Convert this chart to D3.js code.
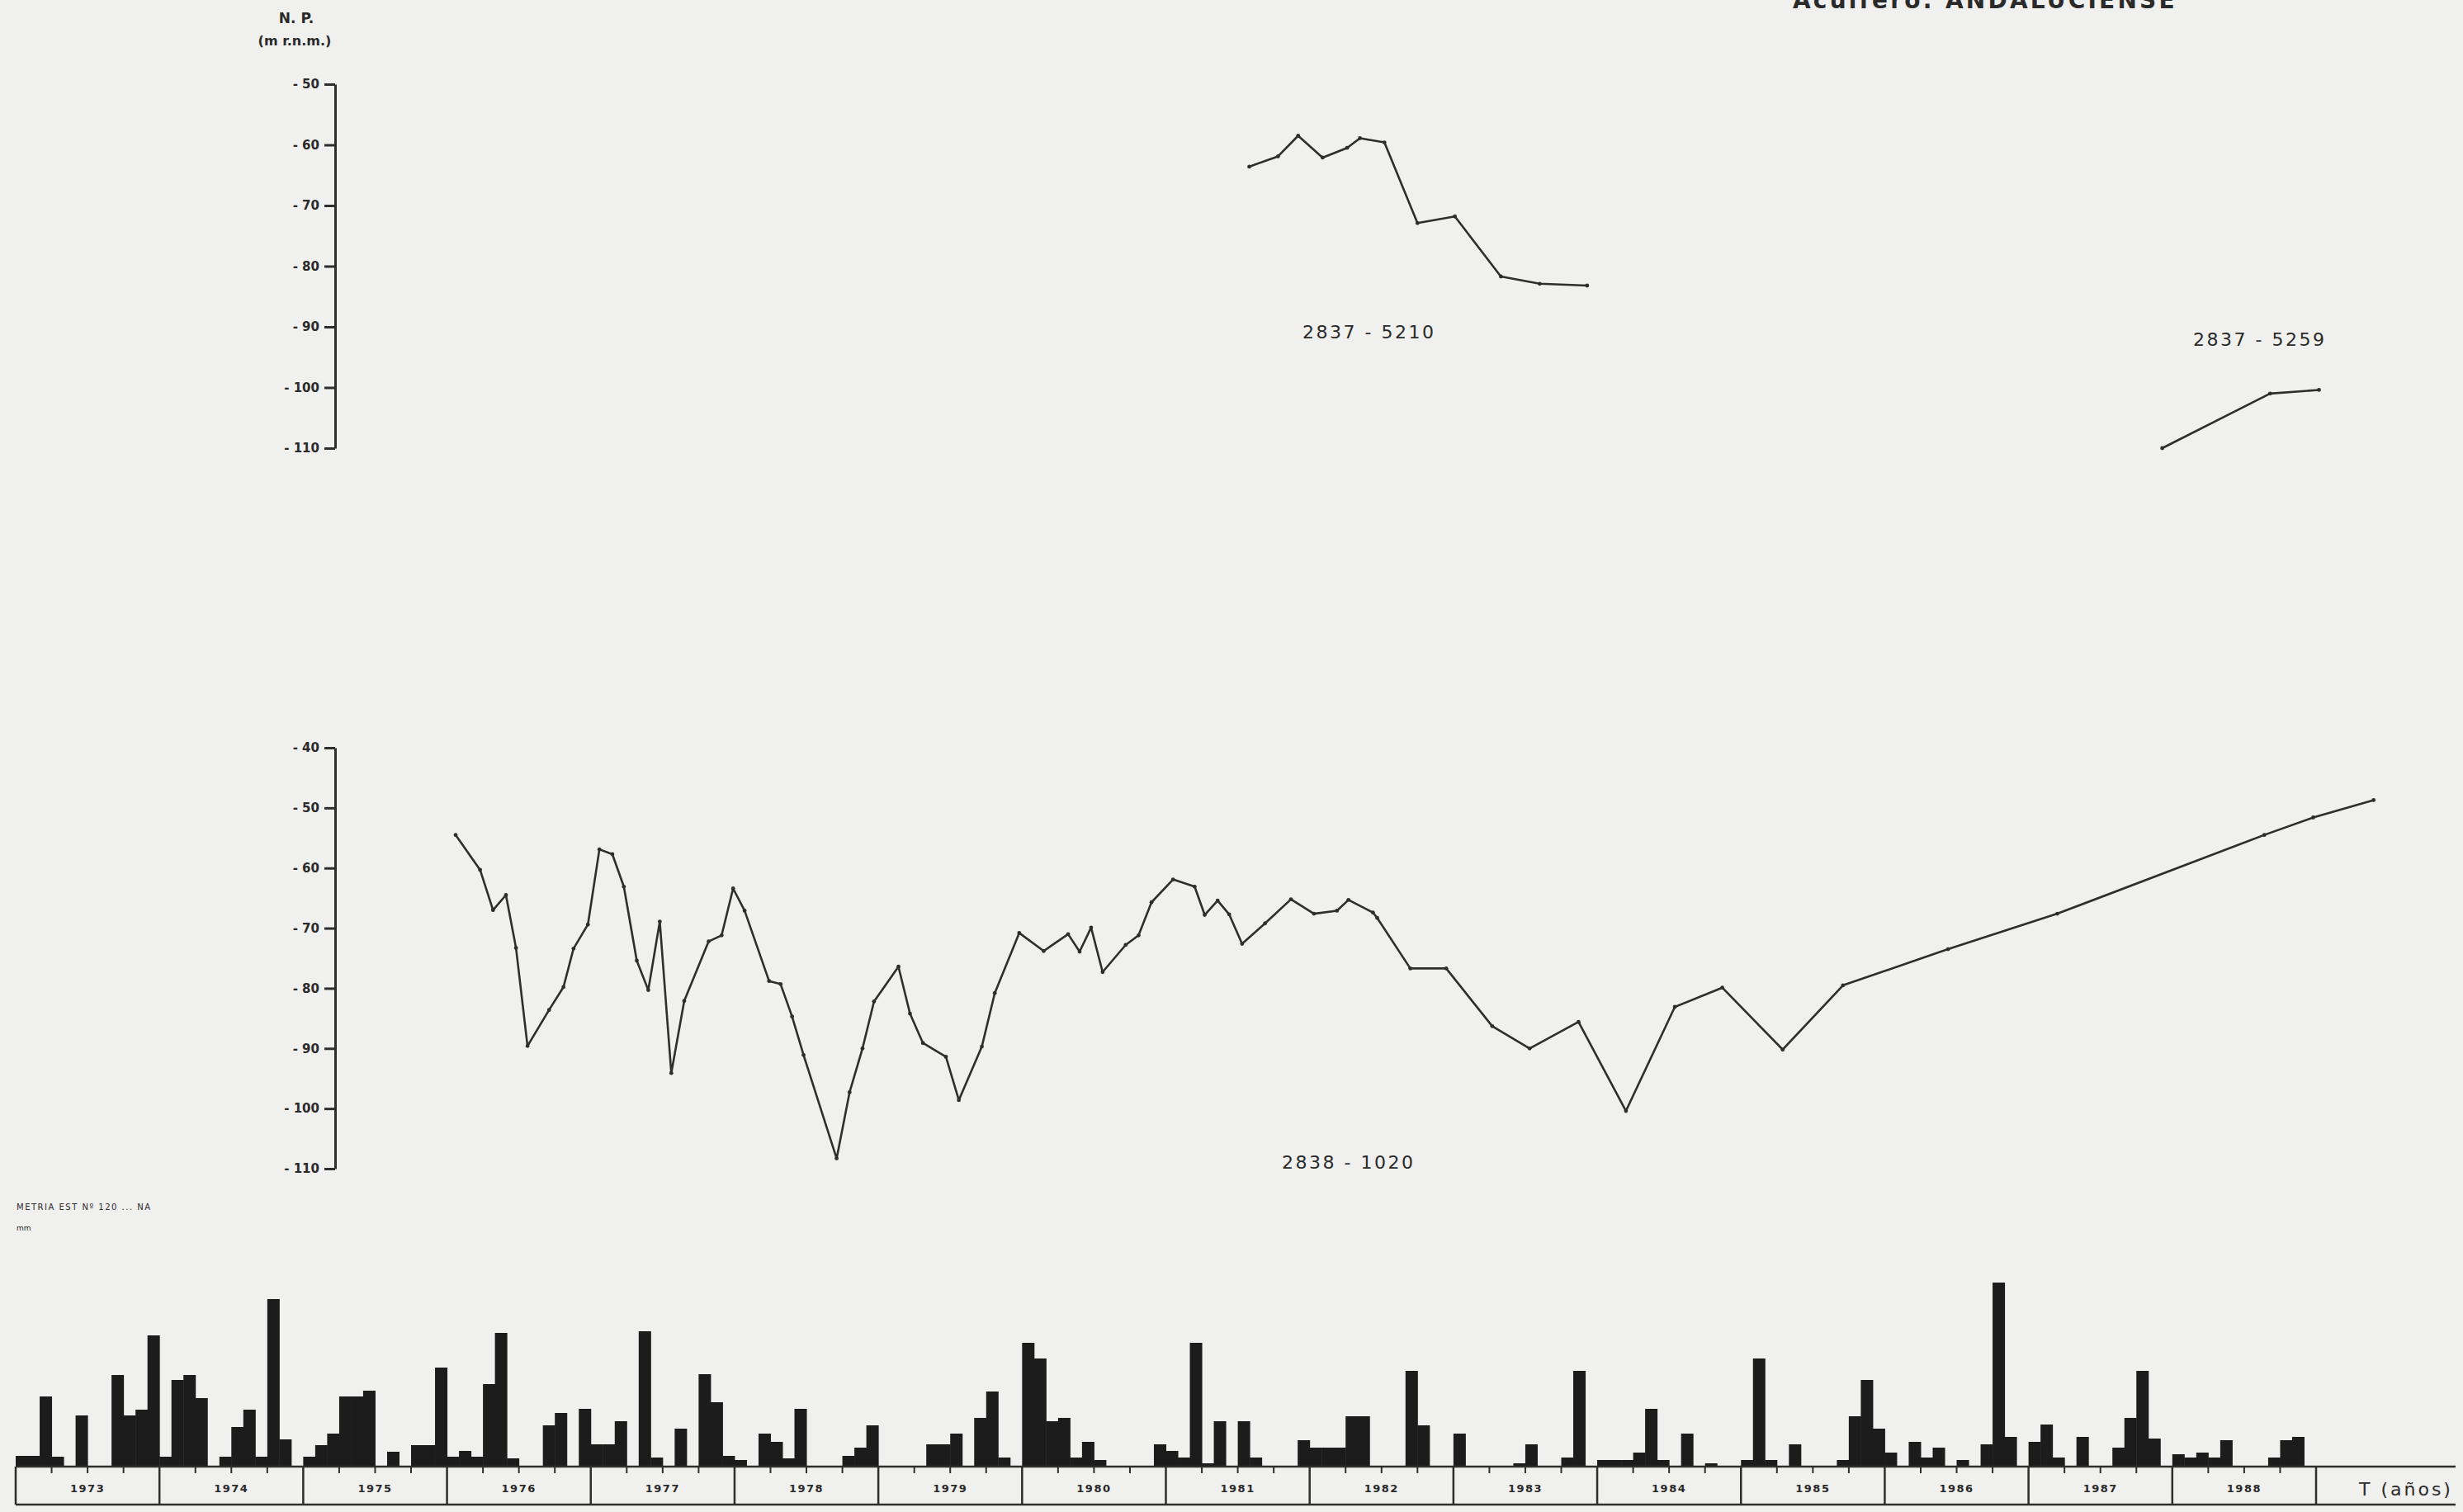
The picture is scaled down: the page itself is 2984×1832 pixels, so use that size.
<!DOCTYPE html>
<html>
<head>
<meta charset="utf-8">
<script src="https://cdn.jsdelivr.net/npm/d3@7"></script>
<style>
  html, body { margin: 0; padding: 0; background: #f0f0ef; }
  svg { display: block; }
  text { font-family: "DejaVu Sans", sans-serif; fill: #2a2a2a; }
</style>
</head>
<body>
<svg id="chart" width="2984" height="1832"></svg>
<script>
// ---- Piezometric levels (m r.n.m.), time in decimal years ----
const pz5210Time  = [1981.58, 1981.78, 1981.92, 1982.09, 1982.26, 1982.35, 1982.52, 1982.75, 1983.01, 1983.33, 1983.60, 1983.93];
const pz5210Level = [-63.6, -61.9, -58.5, -62.1, -60.5, -58.9, -59.6, -72.9, -71.8, -81.7, -82.9, -83.2];

const pz5259Time  = [1987.93, 1988.68, 1989.02];
const pz5259Level = [-110.0, -101.0, -100.4];

const pz1020Time = [
  1976.06, 1976.23, 1976.32, 1976.41, 1976.48, 1976.56, 1976.71, 1976.81, 1976.88, 1976.98,
  1977.06, 1977.15, 1977.23, 1977.32, 1977.40, 1977.48, 1977.56, 1977.65, 1977.82, 1977.91,
  1977.99, 1978.07, 1978.24, 1978.32, 1978.40, 1978.48, 1978.71, 1978.80, 1978.89, 1978.97,
  1979.14, 1979.22, 1979.31, 1979.47, 1979.56, 1979.72, 1979.81, 1979.98, 1980.15, 1980.32,
  1980.40, 1980.48, 1980.56, 1980.72, 1980.81, 1980.90, 1981.05, 1981.20, 1981.27, 1981.36,
  1981.44, 1981.53, 1981.69, 1981.87, 1982.03, 1982.19, 1982.27, 1982.44, 1982.47, 1982.70,
  1982.95, 1983.27, 1983.53, 1983.87, 1984.20, 1984.54, 1984.87, 1985.29, 1985.71, 1986.44,
  1987.20, 1988.64, 1988.98, 1989.40
];
const pz1020Level = [
  -54.5, -60.3, -67.0, -64.5, -73.3, -89.6, -83.6, -79.8, -73.4, -69.4,
  -56.9, -57.7, -63.1, -75.4, -80.3, -68.9, -94.1, -82.1, -72.2, -71.2,
  -63.4, -67.1, -78.8, -79.3, -84.7, -91.1, -108.3, -97.3, -90.0, -82.2,
  -76.4, -84.2, -89.1, -91.4, -98.6, -89.7, -80.8, -70.8, -73.8, -71.0,
  -73.9, -69.9, -77.3, -72.8, -71.2, -65.7, -61.9, -63.1, -67.8, -65.4,
  -67.7, -72.6, -69.2, -65.2, -67.6, -67.1, -65.3, -67.4, -68.3, -76.7,
  -76.7, -86.3, -90.0, -85.6, -100.4, -83.1, -79.9, -90.2, -79.5, -73.5,
  -67.6, -54.5, -51.6, -48.7
];

// ---- Monthly rainfall (mm), one row of 12 months per year ----
const rainYears = [1973, 1974, 1975, 1976, 1977, 1978, 1979, 1980, 1981, 1982, 1983, 1984, 1985, 1986, 1987, 1988];
const rainMonthly = [
  [13, 13, 85, 12, 0, 62, 0, 0, 111, 62, 69, 159],
  [12, 105, 111, 83, 0, 12, 48, 69, 12, 203, 33, 0],
  [12, 26, 40, 85, 85, 92, 0, 18, 0, 26, 26, 120],
  [12, 19, 12, 100, 162, 10, 0, 0, 50, 65, 0, 70],
  [27, 27, 55, 0, 164, 11, 0, 46, 0, 112, 78, 13],
  [8, 0, 40, 30, 10, 70, 0, 0, 0, 13, 23, 50],
  [0, 0, 0, 0, 27, 27, 40, 0, 59, 91, 11, 0],
  [150, 131, 55, 59, 11, 30, 8, 0, 0, 0, 0, 27],
  [19, 11, 150, 4, 55, 0, 55, 11, 0, 0, 0, 32],
  [23, 23, 23, 61, 61, 0, 0, 0, 116, 50, 0, 0],
  [40, 0, 0, 0, 0, 4, 27, 0, 0, 11, 116, 0],
  [8, 8, 8, 17, 70, 8, 0, 40, 0, 4, 0, 0],
  [8, 131, 8, 0, 27, 0, 0, 0, 8, 61, 105, 46],
  [17, 0, 30, 11, 23, 0, 8, 0, 27, 223, 36, 0],
  [30, 51, 11, 0, 36, 0, 0, 23, 59, 116, 34, 0],
  [15, 11, 17, 11, 32, 0, 0, 0, 11, 32, 36, 0]
];

// ---- Axis tick values ----
const upperTicks = [-50, -60, -70, -80, -90, -100, -110];
const lowerTicks = [-40, -50, -60, -70, -80, -90, -100, -110];

const ink = "#2e2e2e";
const svg = d3.select("#chart");

// shared time axis (years)
const x = d3.scaleLinear().domain([1973, 1989]).range([19, 2806]);

// level scales for the two panels
const yUpper = d3.scaleLinear().domain([-50, -110]).range([102, 543]);
const yLower = d3.scaleLinear().domain([-40, -110]).range([906, 1416]);

// rainfall scale
const baseY = 1777;
const yRain = d3.scaleLinear().domain([0, 250]).range([baseY, baseY - 250]);

const fmt = d => "- " + Math.abs(d);

function levelAxis(scale, ticks) {
  const g = svg.append("g")
    .attr("transform", "translate(406,0)")
    .call(d3.axisLeft(scale).tickValues(ticks).tickSize(13).tickSizeOuter(0).tickPadding(6).tickFormat(fmt));
  g.selectAll("path, line").attr("stroke", ink).attr("stroke-width", 3);
  g.selectAll("text").attr("font-size", 15).attr("font-weight", "bold").attr("fill", ink)
    .attr("font-family", "DejaVu Sans, sans-serif");
  return g;
}
levelAxis(yUpper, upperTicks);
levelAxis(yLower, lowerTicks);

// axis title
svg.append("text").attr("x", 359).attr("y", 28).attr("text-anchor", "middle")
  .attr("font-size", 17).attr("font-weight", "bold").text("N. P.");
svg.append("text").attr("x", 357).attr("y", 55).attr("text-anchor", "middle")
  .attr("font-size", 16).attr("font-weight", "bold").text("(m r.n.m.)");

// header (top edge of the sheet)
svg.append("text").attr("x", 2172).attr("y", 10)
  .attr("font-size", 28).attr("font-weight", "bold").attr("letter-spacing", 3.2)
  .text("Acuífero:  ANDALUCIENSE");

// level series
function series(times, levels, yScale) {
  const pts = times.map((t, i) => [x(t), yScale(levels[i])]);
  svg.append("path").attr("d", d3.line()(pts))
    .attr("fill", "none").attr("stroke", ink).attr("stroke-width", 2.6)
    .attr("stroke-linejoin", "round");
  svg.append("g").selectAll("circle").data(pts).join("circle")
    .attr("cx", d => d[0]).attr("cy", d => d[1]).attr("r", 2.4).attr("fill", ink);
}
series(pz5210Time, pz5210Level, yUpper);
series(pz5259Time, pz5259Level, yUpper);
series(pz1020Time, pz1020Level, yLower);

// well labels
const lab = (tx, ty, s) => svg.append("text").attr("x", tx).attr("y", ty)
  .attr("font-size", 22).attr("letter-spacing", 2.5).attr("fill", "#333").text(s);
lab(1578, 410, "2837 - 5210");
lab(2657, 419, "2837 - 5259");
lab(1553, 1416, "2838 - 1020");

// rainfall label
svg.append("text").attr("x", 20).attr("y", 1466).attr("font-size", 10).attr("fill", "#888")
  .attr("letter-spacing", 1.5).text("METRIA  EST  Nº 120  ...  NA");
svg.append("text").attr("x", 20).attr("y", 1491).attr("font-size", 9).attr("fill", "#888").text("mm");

// rainfall bars
const rainData = [];
rainYears.forEach((yr, i) => rainMonthly[i].forEach((v, m) => rainData.push({ t: yr + m / 12, v })));
svg.append("g").selectAll("rect").data(rainData.filter(d => d.v > 0)).join("rect")
  .attr("x", d => x(d.t))
  .attr("width", d => x(d.t + 1 / 12) - x(d.t) + 0.5)
  .attr("y", d => yRain(d.v))
  .attr("height", d => baseY - yRain(d.v))
  .attr("fill", "#1c1c1c");

// year band
const bandTop = baseY, bandBot = 1823;
const band = svg.append("g").attr("stroke", ink).attr("stroke-width", 2.5).attr("fill", "none");
band.append("line").attr("x1", x(1973)).attr("x2", 2975).attr("y1", bandTop).attr("y2", bandTop);
band.append("line").attr("x1", x(1973)).attr("x2", 2975).attr("y1", bandBot).attr("y2", bandBot);
band.selectAll("line.yr").data(d3.range(1973, 1990)).join("line").attr("class", "yr")
  .attr("x1", d => x(d)).attr("x2", d => x(d)).attr("y1", bandTop).attr("y2", bandBot);
band.selectAll("line.q").data(d3.range(1973, 1989).flatMap(y => [y + 0.25, y + 0.5, y + 0.75])).join("line")
  .attr("class", "q").attr("stroke-width", 2)
  .attr("x1", d => x(d)).attr("x2", d => x(d)).attr("y1", bandTop).attr("y2", bandTop + 8);
svg.append("g").selectAll("text").data(rainYears).join("text")
  .attr("x", d => x(d + 0.5)).attr("y", 1808).attr("text-anchor", "middle")
  .attr("font-size", 13).attr("font-weight", "bold").attr("letter-spacing", 1.5).text(d => d);
svg.append("text").attr("x", 2858).attr("y", 1812).attr("font-size", 22).attr("letter-spacing", 3)
  .attr("fill", "#333").text("T (años)");
</script>
</body>
</html>
